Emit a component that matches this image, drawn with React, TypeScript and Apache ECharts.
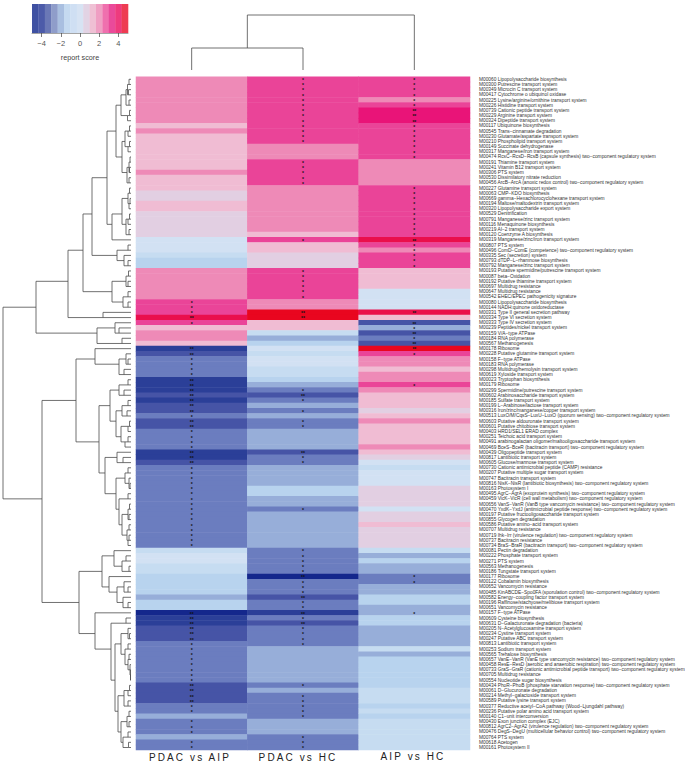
import React, { useEffect, useRef } from "react";
import * as echarts from "echarts";

const rowLabels = [
"M00060 Lipopolysaccharide biosynthesis","M00300 Putrescine transport system","M00349 Microcin C transport system","M00417 Cytochrome o ubiquinol oxidase","M00225 Lysine/arginine/ornithine transport system","M00226 Histidine transport system","M00739 Cationic peptide transport system","M00229 Arginine transport system","M00324 Dipeptide transport system","M00117 Ubiquinone biosynthesis",
"M00545 Trans−cinnamate degradation","M00230 Glutamate/aspartate transport system","M00210 Phospholipid transport system","M00149 Succinate dehydrogenase","M00317 Manganese/iron transport system","M00474 RcsC−RcsD−RcsB (capsule synthesis) two−component regulatory system","M00191 Thiamine transport system","M00241 Vitamin B12 transport system","M00306 PTS system","M00530 Dissimilatory nitrate reduction",
"M00456 ArcB−ArcA (anoxic redox control) two−component regulatory system","M00227 Glutamine transport system","M00063 CMP−KDO biosynthesis","M00669 gamma−Hexachlorocyclohexane transport system","M00194 Maltose/maltodextrin transport system","M00320 Lipopolysaccharide export system","M00529 Denitrification","M00791 Manganese/zinc transport system","M00116 Menaquinone biosynthesis","M00219 AI−2 transport system",
"M00120 Coenzyme A biosynthesis","M00319 Manganese/zinc/iron transport system","M00807 PTS system","M00496 ComD−ComE (competence) two−component regulatory system","M00335 Sec (secretion) system","M00793 dTDP−L−rhamnose biosynthesis","M00792 Manganese/zinc transport system","M00193 Putative spermidine/putrescine transport system","M00087 beta−Oxidation","M00192 Putative thiamine transport system",
"M00697 Multidrug resistance","M00647 Multidrug resistance","M00542 EHEC/EPEC pathogenicity signature","M00080 Lipopolysaccharide biosynthesis","M00144 NADH:quinone oxidoreductase","M00331 Type II general secretion pathway","M00334 Type VI secretion system","M00333 Type IV secretion system","M00239 Peptides/nickel transport system","M00159 V/A−type ATPase",
"M00184 RNA polymerase","M00567 Methanogenesis","M00178 Ribosome","M00228 Putative glutamine transport system","M00158 F−type ATPase","M00183 RNA polymerase","M00298 Multidrug/hemolysin transport system","M00619 Xyloside transport system","M00023 Tryptophan biosynthesis","M00179 Ribosome",
"M00299 Spermidine/putrescine transport system","M00602 Arabinosaccharide transport system","M00185 Sulfate transport system","M00199 L−Arabinose/lactose transport system","M00316 Iron/zinc/manganese/copper transport system","M00513 LuxO/M/CqsS−LuxU−LuxO (quorum sensing) two−component regulatory system","M00603 Putative aldouronate transport system","M00601 Putative chitobiose transport system","M00403 HRD1/SEL1 ERAD complex","M00251 Teichoic acid transport system",
"M00491 arabinogalactan oligomer/maltooligosaccharide transport system","M00469 BceS−BceR (bacitracin transport) two−component regulatory system","M00439 Oligopeptide transport system","M00817 Lantibiotic transport system","M00605 Glucose/mannose transport system","M00730 Cationic antimicrobial peptide (CAMP) resistance","M00207 Putative multiple sugar transport system","M00747 Bacitracin transport system","M00816 NisK−NisR (lantibiotic biosynthesis) two−component regulatory system","M00163 Photosystem I",
"M00495 AgrC−AgrA (exoprotein synthesis) two−component regulatory system","M00459 VicK−VicR (cell wall metabolism) two−component regulatory system","M00656 VanS−VanR (VanB type vancomycin resistance) two−component regulatory system","M00470 YxdK−YxdJ (antimicrobial peptide response) two−component regulatory system","M00197 Putative fructooligosaccharide transport system","M00855 Glycogen degradation","M00586 Putative amino−acid transport system","M00707 Multidrug resistance","M00719 Ihk−Irr (virulence regulation) two−component regulatory system","M00737 Bacitracin resistance",
"M00734 BraS−BraR (bacitracin transport) two−component regulatory system","M00081 Pectin degradation","M00222 Phosphate transport system","M00271 PTS system","M00563 Methanogenesis","M00186 Tungstate transport system","M00177 Ribosome","M00122 Cobalamin biosynthesis","M00652 Vancomycin resistance","M00485 KinABCDE−Spo0FA (sporulation control) two−component regulatory system",
"M00582 Energy−coupling factor transport system","M00196 Raffinose/stachyose/melibiose transport system","M00651 Vancomycin resistance","M00157 F−type ATPase","M00609 Cysteine biosynthesis","M00631 D−Galacturonate degradation (bacteria)","M00205 N−Acetylglucosamine transport system","M00234 Cystine transport system","M00247 Putative ABC transport system","M00813 Lantibiotic transport system",
"M00253 Sodium transport system","M00565 Trehalose biosynthesis","M00657 VanE−VanR (VanE type vancomycin resistance) two−component regulatory system","M00458 ResE−ResD (aerobic and anaerobic respiration) two−component regulatory system","M00733 GraS−GraR (cationic antimicrobial peptide transport) two−component regulatory system","M00705 Multidrug resistance","M00554 Nucleotide sugar biosynthesis","M00434 PhoR−PhoB (phosphate starvation response) two−component regulatory system","M00061 D−Glucuronate degradation","M00214 Methyl−galactoside transport system",
"M00589 Putative lysine transport system","M00377 Reductive acetyl−CoA pathway (Wood−Ljungdahl pathway)","M00236 Putative polar amino acid transport system","M00140 C1−unit interconversion","M00430 Exon junction complex (EJC)","M00812 AgrC2−AgrA2 (virulence regulation) two−component regulatory system","M00476 DegS−DegU (multicellular behavior control) two−component regulatory system","M00764 PTS system","M00618 Acetogen","M00161 Photosystem II",
];

const columns = ["PDAC vs AIP", "PDAC vs HC", "AIP vs HC"];

const pdacVsAip = [
2,2,2,2,2,2,2,2,2,1,
2,1,1,1,1,1,1,1,2,1,
1,1,.5,.5,1,1,.5,.5,.5,.5,
.5,-.5,-.5,-.5,-1,-1.5,-1.5,2,2,2,
2,2,2,3,3,3,4.5,3,1,2,
2,1,-4.5,-4,-3,-3,-3,-3,-4.5,-4.5,
-4.5,-4,-4.5,-4,-4,-3,-4,-4,-3,-3,
-3,-3,-4.5,-4.5,-4,-3,-3,-3,-3,-3,
-3,-3,-3,-3,-3,-3,-3,-3,-3,-3,
-3,-1,-.5,-.5,-1,-1,-1.5,-1.5,-1.5,-1.5,
-2,-1.5,-1.5,-5,-4.5,-4.5,-4,-4,-4,-3,
-3,-3,-3,-3,-3,-3,-3,-4,-4,-4,
-4,-3,-3,-2,-3,-3,-3,-2,-3,-3,
];
const pdacVsHc = [
3,3,3,3,3,3,3,3,3,3,
3,3,3,2,2,2,3,3,3,3,
3,2,2,2,2,2,2,2,2,2,
1,3,1,1,.5,.5,.5,3,3,3,
3,3,3,2,2,5,5,1,1,-1,
-2,-1.5,-.5,-1,-.5,-.5,-1,-1,-1.5,-2,
-3,-4,-3,-2,-3,-2,-3,-3,-2,-2,
-2,-2,-4,-3,-3,-2,-2,-2,-2,-1.5,
-1.5,-2,-2,-3,-2,-2,-2,-2,-2,-2,
-2,-3,-3,-3,-3,-3,-5,-3,-3,-3,
-4,-3,-3,-4.5,-3,-4,-3,-3,-3,-3,
-2,-2,-2,-2,-2,-2,-2,-3,-2,-3,
-3,-3,-3,-3,-2,-2,-2,-3,-3,-3,
];
const aipVsHc = [
3,3,3,3,2,3,4,4,4,3,
3,3,3,3,3,3,2,2,2,2,
2,3,3,3,3,3,3,3,3,3,
3,4.5,3,2,3,3,3,1,1,1,
1,-.5,-.5,-.5,-.5,4.5,1,-4,-2,-4,
-3,-4,5,3,2,2,1,2,2,3,
2,1,1,1,.5,1,2,1,1,1,
1,2,1,.5,-.5,-1,-.5,-.5,-.5,.5,
.5,.5,.5,-.5,.5,.5,1,.5,.5,.5,
.5,-1,-2,-1.5,-2,-2,-3,-3,-2,-2,
-1.5,-1.5,-2,-2,-1.5,-1.5,-2,-2,-2,-2,
-1,-2,-1.5,-1.5,-1.5,-1.5,-1.5,-1.5,-1,-1,
-1,-1.5,-1,-1.5,-1,-1,-1,-1,-1,-1,
];
const singleStars = [
[43,44,45,47,54,55,56,57,65,68,69,70,71,75,76,77,78,79,80,81,82,83,84,85,86,87,88,89,90,109,110,111,112,113,114,115,116,121,122,124,125,126,128,129],
[0,1,2,3,4,5,6,7,8,9,10,11,12,16,17,18,19,20,31,37,38,39,40,41,42,60,62,64,66,67,73,74,83,91,92,93,94,95,97,98,99,101,102,104,106,107,108,109,117,119,120,121,122,123,127,128,129],
[0,1,2,3,4,5,9,10,11,12,13,14,15,21,22,23,24,25,26,27,28,29,30,32,33,34,35,36,48,50,53,59,96,97,103],
];
const doubleStars = [
[46,52,53,58,59,60,61,62,63,64,66,67,72,73,74,103,104,105,106,107,108,117,118,119,120],
[45,46,61,72,96,100,103,105],
[6,7,8,31,45,47,49,51,52],
];

const scoreLevels = [-5,-4.5,-4,-3,-2,-1.5,-1,-.5,.5,1,2,3,4,4.5,5];
const scoreColors = ["#14278c","#2b3f98","#4654a6","#6b7dbf","#97aed9","#b8d3ee","#c6dcf1","#d2e1f3","#e2cfe2","#f0bcd3","#ee8ab7","#ea4498","#e91478","#ea0f4c","#e9061f"];

const legendColors = ["#3f51a2","#4c5ba9","#6a78b6","#8f9dca","#a9bfe0","#c5daf0","#cfdff3","#d7e3f3","#e2d3e4","#efc0d4","#ef9fc3","#ef70ae","#ea4a9a","#ee3b7e","#ee3c52"];
const legendTicks = [-4,-2,0,2,4];

type Tree = number | [number, Tree, Tree];

// node = [merge position along the axis, child, child]; a leaf is a row index
const rowTree: Tree = [3,
 [36,
  [68,
   [83,
    [92,
     [107,
      [116,
       [121,
        [126,[127.5,[129,0,1],[128.5,2,3]],[129,4,5]],
        [127.5,[129.5,6,7],8]],
       [122,
        [125,[128,[129.5,9,10],11],[128,[129.5,12,13],14]],
        [127,[129,[130,15,16],[129.5,17,18]],[129,19,20]]]],
      [112,
       [122,
        [128,[129.5,21,22],[129,[130,23,24],25]],
        [126,[128,[129.5,26,27],28],[129,29,30]]],
       31]],
     [117,[128,32,33],[124,34,[128,35,36]]]],
    [112,
     [126,[128.5,37,38],[128,39,40]],
     [123,[128,41,42],[128,43,44]]]],
   [103,45,46]],
  [97,
   [115,47,[119,48,49]],
   [122,50,51]]],
 [42,
  [76,
   [95,52,[119,[126,53,[128,54,55]],[124,56,57]]],
   [99,
    [110,
     [119,[128,58,59],[124,60,61]],
     [116,
      [122,[128,62,63],[127,64,65]],
      [121,[128,[129.5,66,67],68],[125,[128,69,70],71]]]],
    [105,
     [117,72,[123,73,74]],
     [116,
      [125,[128,75,76],[129,77,[130,78,79]]],
      [119,
       [128,80,81],
       [122,
        [128,[129.5,82,83],[129,84,85]],
        [127,[129,86,87],[128,[129,88,89],90]]]]]]]],
  [79,
   [102,
    [114,91,[122,[126,92,93],[129,94,95]]],
    [109,96,[117,[124,97,[128,98,99]],[123,100,[128,101,102]]]]],
   [95,103,
    [111,
     [126,104,105],
     [115,
      [121,
       [128,106,[129.5,107,108]],
       [125,[128,109,110],[128,[129,111,112],[130,113,[130.5,114,[130.5,115,116]]]]]],
      [118,
       [124,[128,[129.5,117,118],119],[128,120,121]],
       [121,[127,[129,122,123],[129,124,125]],[123,[128,126,127],[128.5,128,129]]]]]]]]]];

// column tree: merge height above the heatmap
const colTree: Tree = [55, [22, 0, 1], 2];

const rowLeafX = 131;
const colLeafH = 0;

function segments(t: Tree, leaf: number, out: number[][]): [number, number] {
  if (typeof t === "number") return [leaf, t];
  const [a0, a1] = segments(t[1], leaf, out);
  const [b0, b1] = segments(t[2], leaf, out);
  out.push([t[0], a1, t[0], b1], [t[0], a1, a0, a1], [t[0], b1, b0, b1]);
  return [t[0], (a1 + b1) / 2];
}
const rowSegs: number[][] = [];
segments(rowTree, rowLeafX, rowSegs);
const colSegsRaw: number[][] = [];
segments(colTree, colLeafH, colSegsRaw);
const colSegs = colSegsRaw.map(s => [s[1], s[0], s[3], s[2]]);

const FONT = "Liberation Sans";

function segItem(color: string, width: number) {
  return (_: any, api: any) => {
    const p = api.coord([api.value(0), api.value(1)]);
    const q = api.coord([api.value(2), api.value(3)]);
    return { type: "line", shape: { x1: p[0], y1: p[1], x2: q[0], y2: q[1] }, style: { stroke: color, lineWidth: width, fill: "none" } };
  };
}

function App() {
  const ref = useRef<HTMLDivElement>(null);
  useEffect(() => {
    const chart = echarts.init(ref.current!, undefined, { renderer: "svg" });
    const cols = [pdacVsAip, pdacVsHc, aipVsHc];
    const cells: any[] = [];
    cols.forEach((vals, c) => vals.forEach((v, r) => {
      const stars = doubleStars[c].includes(r) ? "**" : singleStars[c].includes(r) ? "*" : "";
      cells.push({
        value: [c, r, v],
        label: { show: stars !== "", formatter: stars },
      });
    }));
    const legendStep = 10 / legendColors.length;
    const legendData = legendColors.map((_, i) => [-5 + i * legendStep, -5 + (i + 1) * legendStep, i]);
    const rowIdx = rowLabels.map((_, i) => i);
    chart.setOption({
      animation: false,
      backgroundColor: "#fff",
      textStyle: { fontFamily: FONT },
      visualMap: {
        show: false, type: "piecewise", seriesIndex: 0, dimension: 2,
        pieces: scoreLevels.map((v, i) => ({ value: v, color: scoreColors[i] })),
      },
      grid: [
        { left: 136, width: 334, top: 76.7, height: 673.4, outerBoundsMode: "none" },
        { left: 0, width: 131, top: 76.7, height: 673.4, outerBoundsMode: "none" },
        { left: 136, width: 334, top: 0, height: 70, outerBoundsMode: "none" },
        { left: 32, width: 96, top: 4, height: 29, outerBoundsMode: "none" },
      ],
      xAxis: [
        { gridIndex: 0, type: "category", data: columns, axisLine: { show: false }, axisTick: { show: false }, axisLabel: { show: false } },
        { gridIndex: 1, type: "value", min: 0, max: 131, show: false },
        { gridIndex: 2, type: "value", min: -0.5, max: 2.5, show: false },
        {
          gridIndex: 3, type: "value", min: -5, max: 5,
          axisLine: { show: true, lineStyle: { color: "#666", width: 0.6 } },
          axisTick: { show: true, length: 4, customValues: legendTicks, lineStyle: { color: "#444", width: 0.7 } },
          axisLabel: { show: true, customValues: legendTicks, fontSize: 7.5, color: "#555", margin: 6, fontFamily: FONT, formatter: (v: number) => String(v).replace("-", "−") },
          splitLine: { show: false },
          name: "report score", nameLocation: "middle", nameGap: 21, nameTextStyle: { fontSize: 7.2, color: "#444", fontFamily: FONT },
        },
      ],
      yAxis: [
        {
          gridIndex: 0, type: "category", inverse: true, position: "right", data: rowLabels,
          axisLine: { show: false }, axisTick: { show: false },
          axisLabel: { interval: 0, fontSize: 4.82, color: "#333", margin: 9, fontFamily: FONT },
        },
        { gridIndex: 1, type: "category", inverse: true, data: rowIdx, show: false },
        { gridIndex: 2, type: "value", min: 0, max: 70, show: false },
        { gridIndex: 3, type: "value", min: 0, max: 1, show: false },
      ],
      series: [
        {
          type: "heatmap", xAxisIndex: 0, yAxisIndex: 0, data: cells, silent: true,
          label: { show: false, color: "#111", fontSize: 5, fontWeight: "bold", lineHeight: 5, fontFamily: FONT, offset: [0, 0.8] },
        },
        {
          type: "custom", xAxisIndex: 1, yAxisIndex: 1, data: rowSegs, silent: true,
          encode: { x: [0, 2], y: [1, 3] }, renderItem: segItem("#4d4d4d", 0.8),
        },
        {
          type: "custom", xAxisIndex: 2, yAxisIndex: 2, data: colSegs, silent: true,
          encode: { x: [0, 2], y: [1, 3] }, renderItem: segItem("#4d4d4d", 0.8),
        },
        {
          type: "custom", xAxisIndex: 3, yAxisIndex: 3, data: legendData, silent: true,
          encode: { x: [0, 1] },
          renderItem: (_: any, api: any) => {
            const a = api.coord([api.value(0), 1]);
            const b = api.coord([api.value(1), 0]);
            return { type: "rect", shape: { x: a[0], y: a[1], width: b[0] - a[0] + 0.3, height: b[1] - a[1] }, style: { fill: legendColors[api.value(2)] } };
          },
        },
      ],
      graphic: columns.map((name, i) => ({
        type: "text",
        x: [190, 298, 413][i],
        y: [757, 757, 756][i],
        style: { text: name, fontSize: 10.01, fontFamily: FONT, fill: "#222", textAlign: "center", textVerticalAlign: "middle" },
      })),
    });
    return () => chart.dispose();
  }, []);
  return (
    <>
      <style>{`text[style*="10.01px"]{letter-spacing:2.1px}`}</style>
      <div ref={ref} style={{ position: "absolute", left: 0, top: 0, width: 685, height: 763 }} />
    </>
  );
}

export default App;
